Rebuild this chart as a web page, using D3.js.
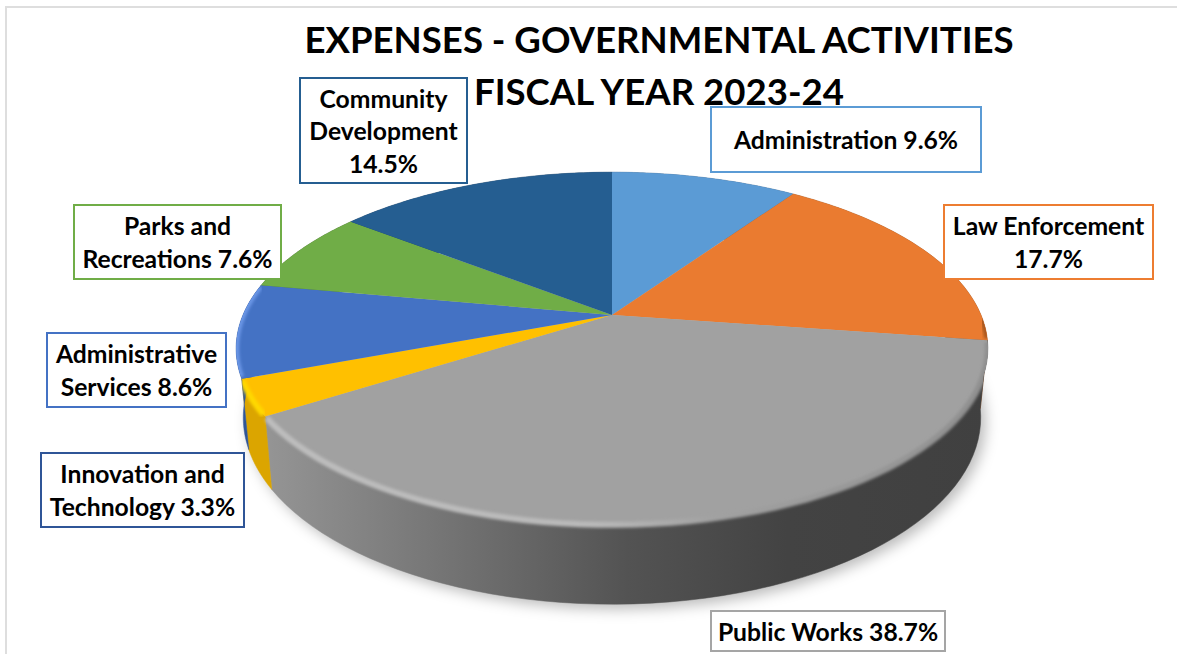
<!DOCTYPE html>
<html>
<head>
<meta charset="utf-8">
<script src="https://cdn.jsdelivr.net/npm/d3@7"></script>
<style>
  html, body { margin: 0; padding: 0; background: #fff; }
  svg { display: block; }
  text { font-family: Lato, "Open Sans", sans-serif; font-weight: 700; fill: #000; }
</style>
</head>
<body>
<div id="chart"></div>
<script>
'use strict';
var categories = ['Administration', 'Law Enforcement', 'Public Works', 'Innovation and Technology',
  'Administrative Services', 'Parks and Recreations', 'Community Development'];
var values = [9.6, 17.7, 38.7, 3.3, 8.6, 7.6, 14.5];
var topColors = ['#5b9bd5', '#ea7b30', '#a1a1a1', '#ffc000', '#4472c4', '#70ad47', '#255e91'];
var sideColors = ['#3f6f9c', '#a8571f', 'url(#graySide)', '#dba500', '#2f5597', '#4e7a32', '#1a4369'];
var borderColors = ['#5b9bd5', '#ed7d31', '#a5a5a5', '#2f5597', '#4472c4', '#70ad47', '#255e91'];
var rimColors = [null, '#a8571f', 'url(#grayRim)', '#ffd800', '#6b96e6', null, null];
var rimStarts = [0, 0.88, 0, 0, 0, 0, 0];
var labelLines = [
  ['Administration 9.6%'],
  ['Law Enforcement', '17.7%'],
  ['Public Works 38.7%'],
  ['Innovation and', 'Technology 3.3%'],
  ['Administrative', 'Services 8.6%'],
  ['Parks and', 'Recreations 7.6%'],
  ['Community', 'Development', '14.5%']
];
var titleLines = ['EXPENSES - GOVERNMENTAL ACTIVITIES', 'FISCAL YEAR 2023-24'];

var width = 1177, height = 654;

var labelBoxes = [
  { x: 711, y: 107, w: 270, h: 65 },
  { x: 944, y: 205, w: 209, h: 74 },
  { x: 711, y: 611, w: 234, h: 40 },
  { x: 41, y: 453, w: 203, h: 74 },
  { x: 47, y: 333, w: 179, h: 74 },
  { x: 74, y: 205, w: 207, h: 74 },
  { x: 300, y: 78, w: 167, h: 105 }
];

var svg = d3.select('#chart').append('svg')
  .attr('width', width)
  .attr('height', height);

var defs = svg.append('defs');
defs.append('filter').attr('id', 'shadow').attr('x', '-10%').attr('y', '-20%').attr('width', '120%').attr('height', '140%')
  .append('feGaussianBlur').attr('stdDeviation', 7);
defs.append('filter').attr('id', 'soft').attr('x', '-5%').attr('y', '-5%').attr('width', '110%').attr('height', '110%')
  .append('feGaussianBlur').attr('stdDeviation', 1.6);

function hGradient(id, stops) {
  var g = defs.append('linearGradient').attr('id', id)
    .attr('gradientUnits', 'userSpaceOnUse')
    .attr('x1', 265).attr('x2', 990).attr('y1', 0).attr('y2', 0);
  stops.forEach(function(s) {
    g.append('stop').attr('offset', s[0]).attr('stop-color', s[1]);
  });
}
hGradient('graySide', [[0, '#959595'], [0.25, '#747474'], [0.5, '#535353'], [0.72, '#434343'], [1, '#404040']]);
hGradient('grayRim', [[0, '#bdbdbd'], [0.45, '#bababa'], [0.62, '#a1a1a1'], [1, '#8f8f8f']]);

// perspective view of the pie: top face and bottom rim use the same foreshortening
var k = 0.19;
function project(a, centerY, ax, by) {
  var u = Math.sin(a), v = Math.cos(a), w = 1 + k * v;
  return [612 + ax * u / w, centerY - by * v / w];
}
function topPoint(a) { return project(a, 315, 369, 170); }
function bottomPoint(a) { return project(a, 382, 362, 180); }

function samples(a0, a1, fn) {
  return d3.range(0, 61).map(function(i) {
    return fn(a0 + (a1 - a0) * i / 60);
  });
}

var line = d3.line();
var slices = d3.pie().sort(null)(values);

// bevel must not bleed past the pie outline
var clip = defs.append('clipPath').attr('id', 'pieOutline');
clip.append('path').attr('d', line(samples(0, 2 * Math.PI, topPoint)) + 'Z');
clip.append('path').attr('d', line(samples(0, 2 * Math.PI, bottomPoint)) + 'Z');
clip.selectAll('path.wall').data(slices).enter().append('path')
  .attr('class', 'wall')
  .attr('d', function(d) {
    var up = samples(d.startAngle, d.endAngle, topPoint);
    var down = samples(d.startAngle, d.endAngle, bottomPoint).reverse();
    return line(up.concat(down)) + 'Z';
  });

// soft shadow under the pie
svg.append('path')
  .attr('d', line(samples(0, 2 * Math.PI, function(a) {
    var p = bottomPoint(a);
    return [p[0] + 5, p[1] + 5];
  })) + 'Z')
  .attr('fill', '#000')
  .attr('fill-opacity', 0.27)
  .attr('filter', 'url(#shadow)');

// frame
svg.append('path')
  .attr('d', 'M6,654V7H1177')
  .attr('fill', 'none')
  .attr('stroke', '#dedede')
  .attr('stroke-width', 2);

// outer wall, one piece per slice
svg.selectAll('path.side').data(slices).enter().append('path')
  .attr('class', 'side')
  .attr('fill', function(d, i) { return sideColors[i]; })
  .attr('stroke', function(d, i) { return sideColors[i]; })
  .attr('stroke-width', 0.5)
  .attr('d', function(d) {
    var up = samples(d.startAngle, d.endAngle, topPoint);
    var down = samples(d.startAngle, d.endAngle, bottomPoint).reverse();
    return line(up.concat(down)) + 'Z';
  });

// top face
svg.selectAll('path.face').data(slices).enter().append('path')
  .attr('class', 'face')
  .attr('fill', function(d, i) { return topColors[i]; })
  .attr('d', function(d) {
    return line([[612, 315]].concat(samples(d.startAngle, d.endAngle, topPoint))) + 'Z';
  });

// bevel along the front edge
svg.append('g').attr('clip-path', 'url(#pieOutline)')
  .selectAll('path.rim').data(slices.filter(function(d, i) { return rimColors[i]; })).enter().append('path')
  .attr('class', 'rim')
  .attr('fill', 'none')
  .attr('stroke', function(d) { return rimColors[d.index]; })
  .attr('stroke-width', 6)
  .attr('filter', 'url(#soft)')
  .attr('d', function(d) {
    var from = d.startAngle + (d.endAngle - d.startAngle) * rimStarts[d.index];
    return line(samples(from + 0.01, d.endAngle - 0.01, topPoint));
  });

// data labels
var labels = svg.selectAll('g.label').data(labelBoxes).enter().append('g')
  .attr('class', 'label')
  .attr('transform', function(d) { return 'translate(' + d.x + ',' + d.y + ')'; });

labels.append('rect')
  .attr('width', function(d) { return d.w; })
  .attr('height', function(d) { return d.h; })
  .attr('fill', '#fff')
  .attr('stroke', function(d, i) { return borderColors[i]; })
  .attr('stroke-width', 2);

labels.each(function(d, i) {
  var lines = labelLines[i];
  var lineHeight = 32.5;
  d3.select(this).selectAll('text').data(lines).enter().append('text')
    .attr('x', d.w / 2)
    .attr('y', function(l, j) { return d.h / 2 + (j - (lines.length - 1) / 2) * lineHeight + 9.5; })
    .attr('text-anchor', 'middle')
    .attr('font-size', 24.7)
    .text(function(l) { return l; });
});

// title
svg.selectAll('text.title').data(titleLines).enter().append('text')
  .attr('class', 'title')
  .attr('x', 659)
  .attr('y', function(d, i) { return 53 + i * 52; })
  .attr('text-anchor', 'middle')
  .attr('font-size', 36.6)
  .text(function(d) { return d; });
</script>
</body>
</html>
